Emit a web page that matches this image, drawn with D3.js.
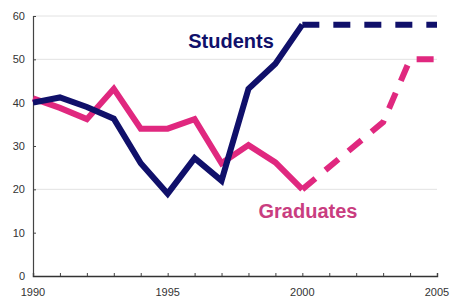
<!DOCTYPE html>
<html>
<head>
<meta charset="utf-8">
<script src="https://cdn.jsdelivr.net/npm/d3@7"></script>
<style>
  body { margin: 0; background: #fff; }
  svg text { font-family: Arial, "Liberation Sans", sans-serif; }
</style>
</head>
<body>
<svg id="chart"></svg>
<script>
// actual values
const studentYears = [1990, 1991, 1992, 1993, 1994, 1995, 1996, 1997, 1998, 1999, 2000];
const studentValues = [40, 41.2, 39, 36.3, 26, 19, 27.2, 22, 43.2, 49, 58];
const graduateYears = [1990, 1991, 1992, 1993, 1994, 1995, 1996, 1997, 1998, 1999, 2000];
const graduateValues = [41, 38.8, 36.2, 43.2, 34, 34, 36.2, 26, 30.2, 26.2, 20];

// projections (dashed)
const studentProjYears = [2000, 2005];
const studentProjValues = [58, 58];
const graduateProjYears = [2000, 2003, 2004, 2005];
const graduateProjValues = [20, 35.5, 50, 50];

const yTicks = [0, 10, 20, 30, 40, 50, 60];
const xTickLabels = [1990, 1995, 2000, 2005];
const gridValues = [20, 50, 60];

const width = 450, height = 307;
const margin = { top: 16, right: 13, bottom: 31, left: 33 };

const svg = d3.select("#chart")
  .attr("width", width)
  .attr("height", height);

const x = d3.scaleLinear()
  .domain([1990, 2005])
  .range([margin.left, width - margin.right]);

const y = d3.scaleLinear()
  .domain([0, 60])
  .range([height - margin.bottom, margin.top]);

// gridlines
svg.append("g")
  .selectAll("line")
  .data(gridValues)
  .join("line")
  .attr("x1", x(1990))
  .attr("x2", x(2005))
  .attr("y1", d => y(d))
  .attr("y2", d => y(d))
  .attr("stroke", "#e2e2e2")
  .attr("stroke-width", 1);

// y axis
const yAxis = svg.append("g")
  .attr("transform", `translate(${x(1990)},0)`)
  .call(d3.axisRight(y).tickValues(yTicks).tickSize(3).tickFormat(d3.format("d")));
yAxis.select(".domain").attr("stroke", "#444").attr("stroke-width", 1.2);
yAxis.selectAll(".tick line").attr("stroke", "#444");
yAxis.selectAll(".tick text")
  .attr("x", -8)
  .attr("text-anchor", "end")
  .attr("fill", "#333")
  .style("font-size", "11px");

// x axis
const xAxis = svg.append("g")
  .attr("transform", `translate(0,${y(0)})`)
  .call(d3.axisTop(x).tickValues(d3.range(1990, 2006)).tickSize(3).tickFormat(""));
xAxis.select(".domain").attr("stroke", "#333").attr("stroke-width", 1.4);
xAxis.selectAll(".tick line").attr("stroke", "#444");

svg.append("g")
  .selectAll("text")
  .data(xTickLabels)
  .join("text")
  .attr("x", d => x(d))
  .attr("y", y(0) + 20)
  .attr("text-anchor", "middle")
  .attr("fill", "#333")
  .style("font-size", "11px")
  .text(d => d);

const navy = "#10106a";
const pink = "#e0287f";

const line = d3.line()
  .x(d => x(d[0]))
  .y(d => y(d[1]));

function drawSeries(years, values, color, dash) {
  svg.append("path")
    .datum(d3.zip(years, values))
    .attr("fill", "none")
    .attr("stroke", color)
    .attr("stroke-width", 6)
    .attr("stroke-linejoin", "miter")
    .attr("stroke-dasharray", dash)
    .attr("d", line);
}

drawSeries(graduateYears, graduateValues, pink, null);
drawSeries(graduateProjYears, graduateProjValues, pink, "17,13");
drawSeries(studentYears, studentValues, navy, null);
drawSeries(studentProjYears, studentProjValues, navy, "17,14");

// labels
svg.append("text")
  .attr("x", 231)
  .attr("y", 48)
  .attr("text-anchor", "middle")
  .attr("fill", navy)
  .style("font-size", "20px")
  .style("font-weight", "bold")
  .text("Students");

svg.append("text")
  .attr("x", 308)
  .attr("y", 218)
  .attr("text-anchor", "middle")
  .attr("fill", "#c93d80")
  .style("font-size", "20px")
  .style("font-weight", "bold")
  .text("Graduates");
</script>
</body>
</html>
